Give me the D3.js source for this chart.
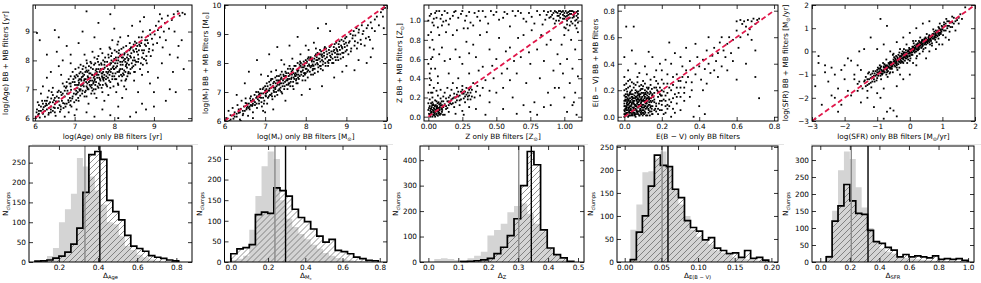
<!DOCTYPE html>
<html>
<head>
<meta charset="utf-8">
<script src="https://cdn.jsdelivr.net/npm/d3@7"></script>
<style>
  body { margin: 0; background: #fff; }
  svg { display: block; }
</style>
</head>
<body>
<div id="chart"></div>
<script>
// ---- scatter data: [only BB, BB + MB] ----
const agePoints = [
  [6.02,6.05],[6.05,6.3],[6.08,6.12],[6.1,6.45],[6.12,6.02],[6.15,6.25],[6.18,6.6],[6.2,6.15],[6.22,6.38],[6.25,6.05],[6.28,6.5],[6.3,6.3],[6.32,6.72],[6.35,6.18],[6.38,6.55],[6.4,6.4],[6.42,6.9],[6.45,6.25],[6.48,6.62],[6.5,6.48],[6.52,6.08],[6.55,6.75],[6.58,6.35],[6.6,6.58],[6.05,8.95],[6.12,8.7],[6.2,7.1],[6.3,7.4],[6.45,7.05],[6.55,8.3],[6.6,7.8],[6.15,6.85],[6.35,6.95],[6.5,6.2],
  [6.62,6.45],[6.65,6.9],[6.68,6.6],[6.7,7.2],[6.72,6.35],[6.75,6.75],[6.78,7.05],[6.8,6.5],[6.82,6.95],[6.85,7.35],[6.88,6.7],[6.9,7.1],[6.92,6.4],[6.95,7.25],[6.98,6.85],[7.0,7.0],[7.02,7.4],[7.04,6.62],[7.06,7.15],[7.08,6.9],[7.1,7.3],[7.12,7.55],[7.14,6.78],[7.16,7.12],[7.18,7.42],[7.2,6.95],[6.7,8.0],[6.8,8.5],[6.9,7.9],[7.0,6.1],[7.1,8.6],[6.75,6.05],[7.15,7.85],[6.95,7.6],[7.05,6.3],[7.2,7.7],[6.66,7.5],[6.85,6.2],
  [7.22,7.2],[7.24,7.5],[7.26,6.9],[7.28,7.35],[7.3,7.65],[7.32,7.05],[7.34,7.4],[7.36,7.8],[7.38,7.15],[7.4,7.55],[7.42,6.85],[7.44,7.3],[7.46,7.7],[7.48,7.0],[7.5,7.45],[7.52,7.9],[7.54,7.25],[7.56,7.6],[7.58,7.1],[7.6,7.5],[7.62,7.85],[7.64,7.35],[7.66,7.7],[7.68,7.05],[7.7,7.55],[7.72,8.0],[7.74,7.4],[7.76,7.75],[7.78,7.2],[7.8,7.6],[7.25,8.2],[7.35,6.5],[7.45,8.3],[7.55,6.7],[7.65,8.4],[7.75,6.6],[7.3,6.2],[7.5,8.8],[7.7,6.3],[7.4,7.95],[7.6,8.15],[7.28,7.75],[7.48,7.25],[7.68,7.85],[7.33,7.0],[7.53,7.65],[7.73,7.3],[7.57,8.05],[7.43,7.15],
  [7.82,7.95],[7.84,7.4],[7.86,8.1],[7.88,7.65],[7.9,7.25],[7.92,7.9],[7.94,8.25],[7.96,7.55],[7.98,7.8],[8.0,8.05],[8.02,7.35],[8.04,7.75],[8.06,8.3],[8.08,7.6],[8.1,8.0],[8.12,7.45],[8.14,8.15],[8.16,7.85],[8.18,8.4],[8.2,7.7],[8.22,8.1],[8.24,7.5],[8.26,8.25],[8.28,7.95],[8.3,8.5],[8.32,7.75],[8.34,8.2],[8.36,7.6],[8.38,8.35],[7.85,6.8],[7.95,8.7],[8.05,6.9],[8.15,8.8],[8.25,7.1],[8.35,8.85],[7.9,6.1],[8.1,6.4],[8.3,7.0],[8.0,9.1],[8.2,6.7],[7.88,8.45],[8.08,8.55],[8.28,7.3],[7.98,7.1],[8.18,7.3],
  [8.42,8.1],[8.45,8.45],[8.48,7.8],[8.5,8.3],[8.52,8.65],[8.55,7.95],[8.58,8.5],[8.6,8.2],[8.62,8.8],[8.65,7.7],[8.68,8.6],[8.7,8.35],[8.72,9.0],[8.75,8.05],[8.78,8.7],[8.8,8.5],[8.82,7.9],[8.85,8.85],[8.88,8.4],[8.9,9.05],[8.92,8.15],[8.95,8.75],[8.98,8.55],[8.5,7.3],[8.6,6.9],[8.7,7.5],[8.8,6.3],[8.9,7.2],[8.45,9.2],[8.65,9.35],[8.55,6.2],[8.75,9.5],[8.4,7.55],[8.85,7.6],
  [9.02,8.9],[9.05,9.2],[9.08,8.6],[9.1,9.05],[9.12,9.35],[9.15,8.8],[9.18,9.15],[9.2,9.45],[9.22,8.45],[9.25,9.0],[9.28,9.3],[9.3,8.7],[9.35,9.55],[9.38,9.1],[9.4,8.2],[9.45,9.4],[9.5,9.6],[9.52,9.0],[9.55,6.9],[9.6,9.7],[9.62,8.5],[9.65,9.55],[9.7,8.7],[9.72,9.65],[9.75,7.7],[9.78,9.6],[9.1,7.4],[9.3,6.6],[9.2,7.9],[9.4,7.0],[9.0,6.4],[9.6,8.1],[9.48,7.6],[9.15,9.6],
  [6.3,8.2],[6.6,8.8],[6.4,7.6],[6.9,8.2],[7.2,9.0],[7.6,9.3],[7.9,9.6],[7.3,9.7],[6.5,9.05],[8.4,6.05],[8.7,6.5],[8.1,6.0],[9.0,6.9],[7.5,6.05]
];
const ageCore = [
  [6.26,6.42],[6.34,6.12],[6.41,6.68],[6.47,6.37],[6.53,6.58],[6.57,6.9],[6.63,6.22],[6.67,6.8],[6.71,6.52],[6.74,7.1],[6.77,6.4],[6.81,6.85],[6.84,6.62],[6.87,7.2],[6.89,6.45],[6.91,6.98],[6.94,6.68],[6.97,7.35],[6.99,6.55],[7.01,7.15],[7.03,6.82],[7.05,7.5],[7.07,7.05],[7.09,6.7],[7.11,7.22],[7.13,6.95],[7.15,7.6],[7.17,7.3],[7.19,6.85],[7.21,7.45],[7.23,7.1],[7.25,6.75],[7.27,7.6],[7.29,7.25],[7.31,7.9],[7.33,7.45],[7.35,7.0],[7.37,7.55],[7.39,7.3],[7.41,7.75],[7.43,7.05],[7.45,7.5],[7.47,7.2],[7.49,7.85],[7.51,7.35],[7.53,7.0],[7.55,7.7],[7.57,7.4],[7.59,7.95],[7.61,7.2],[7.63,7.6],[7.65,7.3],[7.67,7.9],[7.69,7.45],[7.71,7.15],[7.73,7.7],[7.75,7.5],[7.77,8.1],[7.79,7.35],[7.81,7.8],[7.83,7.55],[7.85,8.2],[7.87,7.3],[7.89,7.85],[7.91,7.6],[7.93,8.0],[7.95,7.35],[7.97,7.95],[7.99,7.7],[8.01,8.35],[8.03,7.55],[8.05,8.0],[8.07,7.8],[8.09,7.2],[8.11,8.25],[8.13,7.65],[8.15,7.95],[8.17,7.5],[8.19,8.1],[8.21,7.85],[8.23,8.45],[8.25,7.65],[8.27,8.05],[8.29,7.8],[8.31,8.3],[8.33,7.45],[8.35,8.0],[8.37,7.85],[8.39,8.6],[8.41,7.7],[8.43,8.25],[8.47,8.0],[8.49,8.55],[8.53,7.85],[8.57,8.3],[8.61,8.05],[8.63,8.55],[8.67,7.9],[8.69,8.8],[8.73,8.25],[8.77,8.55],[8.81,8.15],[8.83,8.7],[8.87,8.3],[8.91,8.9],[8.97,8.35],
  [7.0,7.25],[7.04,6.95],[7.08,7.45],[7.12,7.0],[7.16,7.35],[7.2,7.15],[7.24,7.3],[7.28,6.95],[7.32,7.6],[7.36,7.25],[7.4,7.1],[7.44,7.5],[7.48,7.4],[7.52,7.15],[7.56,7.5],[7.6,7.7],[7.64,7.15],[7.68,7.55],[7.72,7.35],[7.76,7.95],[7.8,7.45],[7.84,7.7],[7.88,7.5],[7.92,8.15],[7.96,7.75],[8.0,7.45],[8.04,8.1],[8.08,7.9],[8.12,7.6],[8.16,8.2],[8.2,7.95],[8.24,8.0],[8.28,7.6],[8.32,8.1],[8.36,8.05],[8.4,8.4],[8.44,7.9],[8.48,8.35],[8.52,8.0],[8.56,8.6],[7.1,6.6],[7.3,6.75],[7.5,6.85],[7.7,6.9],[7.9,7.05],[8.1,7.15],[8.3,7.35],[8.5,7.6],[6.9,7.45],[7.1,7.75],[7.3,8.0],[7.5,8.1],[7.7,8.25],[7.9,8.4],[8.1,8.65],[6.6,6.95],[6.8,7.25],[6.5,6.7],[6.4,6.2],[6.3,6.45],[6.2,6.3],[6.1,6.15],[6.15,6.4],[6.25,6.6],[6.35,6.35],[6.45,6.8],[6.55,6.55],[6.65,6.3],[6.75,6.95],[6.85,6.55]
];
const ageExtra = [
  [6.9,7.2],[6.95,6.75],[7.0,7.45],[7.05,6.85],[7.1,7.15],[7.15,7.0],[7.2,7.55],[7.25,7.35],[7.3,7.1],[7.35,7.65],[7.4,7.4],[7.45,6.95],[7.5,7.3],[7.55,7.55],[7.6,7.05],[7.65,7.65],[7.7,7.4],[7.75,7.85],[7.8,7.15],[7.85,7.6],[7.9,7.9],[7.95,7.45],[8.0,7.7],[8.05,7.35],[8.1,8.1],[8.15,7.7],[8.2,7.45],[8.25,8.2],[8.3,7.85],[8.35,7.55],[8.4,8.15],[8.45,7.75],[8.5,8.1],[8.55,8.4],[8.6,7.95],[8.65,8.5],[8.7,8.1],[8.75,8.35],[8.8,8.0],[8.85,8.6],[7.02,7.7],[7.12,7.35],[7.22,7.8],[7.32,7.2],[7.42,7.9],[7.52,7.55],[7.62,7.4],[7.72,7.6],[7.82,7.1],[7.92,7.7],[8.02,7.9],[8.12,8.35],[8.22,7.55],[8.32,7.9],[8.42,8.45],[8.52,7.6],[8.62,8.35],[8.72,7.85],[6.6,6.7],[6.65,6.4],[6.7,6.85],[6.75,6.5],[6.8,7.1],[6.85,6.85],[6.9,6.6],[6.5,6.35],[6.45,6.55],[6.4,6.3],[6.35,6.5],[6.3,6.6],[6.25,6.25],[6.2,6.5],[6.1,6.25],[6.07,6.55],[6.04,6.2]
];
const massPoints = [
  [6.05,6.1],[6.1,6.35],[6.12,6.0],[6.15,6.2],[6.2,6.45],[6.22,6.08],[6.25,6.3],[6.3,6.15],[6.32,6.55],[6.35,6.28],[6.38,6.05],[6.4,6.42],[6.42,6.7],[6.45,6.2],[6.48,6.5],[6.5,6.35],[6.52,6.78],[6.55,6.45],[6.58,6.18],[6.6,6.6],[6.62,6.4],[6.65,6.85],[6.68,6.52],[6.7,6.3],[6.72,6.7],[6.75,6.55],[6.78,7.0],[6.8,6.45],[6.82,6.75],[6.85,6.6],[6.88,7.1],[6.9,6.8],[6.92,6.5],[6.95,6.95],[6.98,6.7],[7.0,7.2],[7.02,6.85],[7.05,6.6],[7.08,7.05],[7.1,7.35],[7.12,6.9],[7.15,7.15],[7.18,6.75],[7.2,7.3],[7.22,7.0],[7.25,7.5],[7.28,7.2],[7.3,6.9],[7.32,7.4],[7.35,7.1],[7.38,7.6],[7.4,7.3],[7.42,6.95],[7.45,7.45],[7.48,7.2],[7.5,7.7],[7.52,7.4],[7.55,7.1],[7.58,7.55],[7.6,7.3],[7.62,7.8],[7.65,7.5],[7.68,7.2],[7.7,7.65],[7.72,7.45],[7.75,7.9],[7.78,7.6],[7.8,7.3],[7.82,7.75],[7.85,7.55],[7.88,8.0],[7.9,7.7],[7.92,7.4],[7.95,7.85],[7.98,7.6],[8.0,8.1],[8.02,7.8],[8.05,7.5],[8.08,7.95],[8.1,7.7],[8.12,8.2],[8.15,7.9],[8.18,7.6],[8.2,8.05],[8.22,7.8],[8.25,8.3],[8.28,8.0],[8.3,7.7],[8.32,8.15],[8.35,7.9],[8.38,8.4],[8.4,8.1],[8.42,7.75],[8.45,8.25],[8.48,8.0],[8.5,8.5],[8.52,8.2],[8.55,7.9],[8.58,8.35],[8.6,8.1],[8.62,8.6],[8.65,8.3],[8.68,8.0],[8.7,8.45],[8.72,8.2],[8.75,8.7],[8.78,8.4],[8.8,8.1],[8.82,8.55],[8.85,8.3],[8.88,8.8],[8.9,8.5],[8.92,8.2],[8.95,8.65],[8.98,8.4],[9.0,8.9],[9.02,8.6],[9.05,8.3],[9.08,8.75],[9.1,9.0],[9.12,8.5],[9.15,8.85],[9.18,9.1],[9.2,8.6],[9.22,8.95],[9.25,9.2],[9.28,8.7],[9.3,9.05],[9.35,8.8],[9.38,9.3],[9.4,9.0],[9.45,8.6],[9.5,9.2],[9.55,8.9],[9.6,9.4],[9.65,8.5],[9.7,9.1],[9.75,9.6],[9.8,9.3],[9.85,9.75],[9.9,9.85],[9.95,9.9],[9.92,9.2],
  [6.3,6.9],[6.5,7.3],[6.6,7.7],[6.8,8.1],[6.9,7.6],[7.1,8.3],[7.2,6.4],[7.0,6.3],[7.4,8.1],[7.6,8.6],[7.8,8.9],[7.9,6.9],[8.1,7.1],[8.3,9.2],[8.5,9.35],[8.4,7.2],[8.7,7.5],[8.9,7.7],[9.0,7.9],[9.2,7.75],[9.3,8.1],[9.5,8.0],[9.6,8.2],[8.6,9.1],[7.5,6.7],[6.4,6.0],[6.7,6.1],[7.3,8.55],[9.9,9.6],[9.7,9.5],[8.0,8.6],[7.7,7.1],[8.2,8.7],[7.15,7.7],[6.95,6.35],
  [7.05,7.0],[7.25,7.15],[7.45,7.6],[7.65,7.7],[7.85,7.85],[8.05,8.15],[7.15,7.45],[7.35,7.25],[7.55,7.4],[7.75,7.55],[7.95,8.05],[8.15,8.1],[8.35,8.3],[6.85,6.9],[6.65,6.7],[7.4,7.0],[7.6,7.9],[7.8,8.0],[8.0,7.65],[8.25,8.5]
];
const massCore = [
  [6.15,6.05],[6.25,6.15],[6.35,6.4],[6.45,6.35],[6.55,6.6],[6.6,6.45],[6.65,6.55],[6.7,6.75],[6.75,6.65],[6.8,6.85],[6.85,6.7],[6.9,6.95],[6.95,6.8],[7.0,7.05],[7.02,6.95],[7.06,7.2],[7.1,7.05],[7.13,7.25],[7.16,6.95],[7.19,7.2],[7.22,7.35],[7.25,7.1],[7.28,7.4],[7.31,7.25],[7.34,7.55],[7.37,7.3],[7.4,7.5],[7.43,7.2],[7.46,7.55],[7.49,7.35],[7.52,7.65],[7.55,7.45],[7.58,7.3],[7.61,7.6],[7.64,7.45],[7.67,7.75],[7.7,7.5],[7.73,7.6],[7.76,7.4],[7.79,7.75],[7.82,7.6],[7.85,7.95],[7.88,7.7],[7.91,7.85],[7.94,7.55],[7.97,7.9],[8.0,7.8],[8.03,8.05],[8.06,7.75],[8.09,8.1],[8.12,7.85],[8.15,8.05],[8.18,7.8],[8.21,8.15],[8.24,7.95],[8.27,8.2],[8.3,7.95],[8.33,8.3],[8.36,8.05],[8.39,8.25],[8.42,7.95],[8.45,8.35],[8.48,8.15],[8.51,8.4],[8.54,8.05],[8.57,8.45],[8.6,8.25],[8.63,8.4],[8.66,8.15],[8.69,8.55],[8.72,8.35],[8.75,8.5],[8.78,8.2],[8.81,8.65],[8.84,8.45],[8.87,8.6],[8.9,8.35],[8.93,8.75],[8.96,8.55],[8.99,8.7],
  [7.03,7.1],[7.09,6.85],[7.14,7.4],[7.21,7.15],[7.27,7.0],[7.33,7.35],[7.39,7.45],[7.45,7.3],[7.51,7.55],[7.57,7.65],[7.63,7.35],[7.69,7.8],[7.75,7.65],[7.81,7.5],[7.87,7.9],[7.93,7.75],[7.99,8.0],[8.05,7.9],[8.11,8.15],[8.17,7.95],[8.23,8.25],[8.29,8.1],[8.35,8.45],[8.41,8.2],[8.47,8.55],[6.7,6.6],[6.78,6.8],[6.86,6.95],[6.94,7.1],[6.62,6.5],[6.54,6.4],[6.46,6.25],[6.38,6.3],[6.3,6.25],[6.22,6.2],[6.97,6.6],[7.17,6.85],[7.37,7.05],[7.57,7.25],[7.77,7.45],[7.97,7.65],[8.17,7.75],[8.37,7.9],[8.57,8.1],[8.77,8.3],[7.07,7.55],[7.27,7.75],[7.47,7.95],[7.67,8.15],[7.87,8.3],[8.07,8.45]
];
const massExtra = [
  [6.52,6.62],[6.57,6.5],[6.63,6.78],[6.69,6.55],[6.74,6.9],[6.79,6.6],[6.83,7.0],[6.87,6.82],[6.91,6.65],[6.96,7.15],[7.01,6.88],[7.04,7.3],[7.07,6.8],[7.11,7.12],[7.14,6.9],[7.18,7.45],[7.21,7.05],[7.24,6.85],[7.26,7.3],[7.29,7.55],[7.32,7.05],[7.36,7.4],[7.38,7.15],[7.41,7.7],[7.44,7.4],[7.47,7.1],[7.5,7.55],[7.53,7.25],[7.56,7.8],[7.59,7.45],[7.62,7.2],[7.66,7.6],[7.69,7.35],[7.72,7.9],[7.74,7.55],[7.77,7.3],[7.8,7.7],[7.83,7.45],[7.86,8.05],[7.89,7.6],[7.92,7.95],[7.96,7.65],[7.99,7.4],[8.02,8.0],[8.04,7.7],[8.07,8.2],[8.1,7.9],[8.13,7.6],[8.16,8.15],[8.19,7.9],[8.22,7.65],[8.26,8.1],[8.29,8.35],[8.31,7.85],[8.34,8.15],[8.37,7.8],[8.4,8.3],[8.43,8.05],[8.46,8.5],[8.49,7.9],[8.53,8.3],[8.56,8.0],[8.59,8.55],[8.62,8.2],[8.65,8.0],[8.68,8.4],[8.71,8.65],[8.74,8.1],[8.77,8.45],[8.8,8.3],[8.83,8.75],[8.86,8.15],[8.89,8.55],[8.93,8.35],[8.97,8.85],[9.01,8.45],[9.06,8.7],[9.11,8.4],[9.16,8.95],[9.21,8.75],[9.26,8.5],[9.31,9.15],[9.36,8.65],[9.42,9.1],[9.48,8.85],[9.53,9.3],[9.58,8.8],[9.63,9.2]
];
const zPoints = [
  [0.01,0.02],[0.02,0.08],[0.03,0.0],[0.04,0.12],[0.05,0.05],[0.06,0.1],[0.07,0.01],[0.08,0.07],[0.09,0.14],[0.01,0.11],[0.02,0.04],[0.03,0.15],[0.04,0.06],[0.05,0.0],[0.06,0.03],[0.07,0.09],[0.08,0.13],[0.1,0.05],[0.11,0.1],[0.12,0.02],[0.01,0.18],[0.02,0.25],[0.03,0.2],[0.05,0.17],[0.07,0.22],[0.09,0.19],[0.0,0.07],[0.0,0.14],[0.13,0.08],[0.15,0.12],[0.04,0.3],[0.02,0.38],[0.06,0.27],[0.01,0.33],[0.11,0.16],
  [0.14,0.16],[0.16,0.22],[0.18,0.14],[0.2,0.2],[0.22,0.26],[0.24,0.18],[0.26,0.24],[0.28,0.3],[0.3,0.22],[0.32,0.28],[0.34,0.2],[0.36,0.32],[0.17,0.28],[0.19,0.1],[0.21,0.3],[0.23,0.12],[0.25,0.32],[0.27,0.15],[0.29,0.25],[0.31,0.18],[0.33,0.35],[0.35,0.26],[0.38,0.22],[0.4,0.3],[0.15,0.05],[0.2,0.03],[0.25,0.06],[0.3,0.1],[0.42,0.38],[0.45,0.27],[0.18,0.35],[0.22,0.4],[0.12,0.25],[0.26,0.02],[0.14,0.3],
  [0.01,1.05],[0.03,0.98],[0.05,1.08],[0.07,0.93],[0.09,1.02],[0.12,1.1],[0.15,0.96],[0.18,1.05],[0.21,0.9],[0.24,1.07],[0.27,1.0],[0.3,1.09],[0.33,0.95],[0.36,1.04],[0.4,1.1],[0.44,0.97],[0.48,1.06],[0.52,1.01],[0.56,1.09],[0.6,0.94],[0.64,1.05],[0.68,1.08],[0.72,0.99],[0.76,1.04],[0.8,1.1],[0.84,0.96],[0.02,0.88],[0.06,1.1],[0.1,0.95],[0.04,1.02],[0.08,0.85],[0.13,1.0],[0.2,1.1],[0.29,0.92],[0.38,1.0],[0.46,1.1],[0.55,1.03],[0.62,1.1],[0.7,1.02],[0.78,0.97],
  [0.96,1.05],[0.98,0.98],[1.0,1.08],[1.02,1.0],[1.04,1.1],[1.06,1.03],[1.08,0.95],[1.1,1.07],[0.97,1.1],[0.99,1.02],[1.01,0.92],[1.03,1.06],[1.05,0.99],[1.07,1.09],[1.09,1.01],[0.94,1.0],[0.92,1.08],[0.9,1.04],[0.88,1.09],[0.86,1.01],
  [1.0,0.85],[1.05,0.8],[1.08,0.7],[0.98,0.75],[1.02,0.6],[1.06,0.5],[1.1,0.42],[0.97,0.55],[1.04,0.35],[1.08,0.25],[1.0,0.2],[1.06,0.12],[1.02,0.05],[1.09,0.02],[0.96,0.3],[1.1,0.88],[1.03,0.9],[0.95,0.65],[1.07,0.15],[0.99,0.45],
  [0.05,0.5],[0.08,0.65],[0.03,0.8],[0.1,0.72],[0.15,0.45],[0.12,0.58],[0.2,0.7],[0.18,0.85],[0.25,0.55],[0.28,0.78],[0.3,0.45],[0.35,0.62],[0.38,0.85],[0.4,0.52],[0.45,0.7],[0.48,0.4],[0.5,0.6],[0.52,0.82],[0.55,0.3],[0.58,0.5],[0.6,0.72],[0.62,0.2],[0.65,0.45],[0.68,0.62],[0.7,0.85],[0.72,0.35],[0.75,0.55],[0.78,0.15],[0.8,0.7],[0.82,0.4],[0.85,0.58],[0.88,0.25],[0.9,0.8],[0.92,0.48],[0.55,0.08],[0.65,0.03],[0.75,0.05],[0.85,0.1],[0.45,0.15],[0.35,0.08],[0.42,0.02],[0.6,0.38],[0.5,0.25],[0.7,0.12],[0.8,0.02],[0.9,0.12],[0.23,0.62],[0.33,0.75],[0.07,0.42],[0.16,0.6],[0.43,0.88],[0.57,0.68],[0.66,0.82],[0.76,0.9],[0.87,0.75],[0.13,0.88],[0.26,0.92],[0.3,0.66],[0.47,0.53],[0.83,0.85],[0.93,0.3],[0.63,0.58],[0.74,0.67],[0.54,0.45],[0.37,0.48],[0.02,0.6],[0.01,0.45],[0.04,0.7]
];
const zCore = [
  [0.005,0.03],[0.015,0.06],[0.025,0.1],[0.035,0.02],[0.045,0.08],[0.055,0.12],[0.065,0.06],[0.075,0.03],[0.085,0.1],[0.095,0.08],[0.005,0.09],[0.015,0.0],[0.025,0.05],[0.035,0.13],[0.045,0.03],[0.055,0.07],[0.065,0.11],[0.075,0.15],[0.085,0.02],[0.1,0.12],[0.02,0.14],[0.04,0.09],[0.06,0.16],[0.08,0.04],[0.1,0.09],[0.12,0.13],[0.14,0.09],[0.16,0.14],[0.18,0.19],[0.2,0.15],[0.22,0.21],[0.24,0.26],[0.26,0.19],[0.28,0.23],[0.3,0.28],[0.32,0.21],[0.17,0.18],[0.19,0.24],[0.21,0.17],[0.23,0.22],[0.25,0.28],[0.27,0.21],[0.29,0.18],[0.31,0.25],[0.13,0.19],[0.15,0.2],[0.11,0.21],[0.09,0.28],[0.07,0.35],[0.03,0.25],
  [0.0,1.0],[0.02,1.07],[0.04,0.95],[0.06,1.03],[0.08,1.1],[0.1,1.06],[0.11,0.99],[0.14,1.08],[0.16,1.02],[0.19,1.09],[0.22,1.03],[0.25,1.1],[0.28,1.05],[0.31,0.98],[0.34,1.08],[0.37,1.1],[0.42,1.04],[0.5,1.09],[0.58,1.07],[0.66,1.1],[0.74,1.08],[0.82,1.06],
  [0.9,1.1],[0.92,1.02],[0.94,1.09],[0.95,1.05],[0.97,1.03],[0.98,1.09],[0.99,1.06],[1.0,1.02],[1.01,1.1],[1.02,1.05],[1.03,1.09],[1.04,1.03],[1.05,1.07],[1.06,1.1],[1.07,1.04],[1.08,1.08],[1.09,1.05],[1.1,1.1],[1.08,1.0],[1.06,0.97],[1.04,0.95],[1.02,0.96],[1.1,0.98],[0.96,1.0],[0.93,0.97],[0.89,1.03],[0.87,1.06],[0.85,1.1],[1.0,0.93],[1.09,0.92],
  [0.0,0.25],[0.01,0.4],[0.0,0.55],[0.01,0.72],[0.0,0.85],[0.02,0.5],[0.03,0.62]
];
const zExtra = [
  [0.012,0.015],[0.022,0.035],[0.032,0.07],[0.042,0.015],[0.052,0.045],[0.062,0.085],[0.072,0.05],[0.082,0.065],[0.092,0.03],[0.102,0.07],[0.018,0.085],[0.028,0.12],[0.038,0.045],[0.048,0.11],[0.058,0.02],[0.068,0.14],[0.078,0.09],[0.088,0.12],[0.098,0.16],[0.108,0.02],[0.13,0.11],[0.15,0.16],[0.17,0.13],[0.19,0.2],[0.21,0.23],[0.23,0.17],[0.25,0.24],[0.27,0.26],[0.29,0.21],[0.31,0.3],
  [0.91,1.06],[0.93,1.1],[0.95,1.08],[0.97,1.07],[0.99,1.1],[1.01,1.04],[1.03,1.02],[1.05,1.1],[1.07,1.06],[1.09,1.09],[1.1,1.03],[1.04,1.07],[1.0,1.05],[0.96,1.1],[1.02,1.08]
];
const ebvPoints = [
  [0.0,0.02],[0.01,0.05],[0.0,0.1],[0.02,0.0],[0.01,0.15],[0.03,0.08],[0.02,0.12],[0.04,0.03],[0.03,0.18],[0.05,0.06],[0.04,0.1],[0.06,0.0],[0.05,0.14],[0.07,0.04],[0.06,0.2],[0.08,0.09],[0.07,0.13],[0.09,0.02],[0.08,0.17],[0.1,0.07],[0.09,0.11],[0.11,0.15],[0.1,0.03],[0.12,0.1],[0.11,0.2],[0.13,0.05],[0.12,0.14],[0.0,0.2],[0.01,0.25],[0.0,0.3],[0.02,0.22],[0.01,0.07],[0.03,0.01],[0.02,0.16],[0.0,0.05],[0.04,0.13],[0.05,0.22],[0.06,0.09],[0.07,0.18],[0.08,0.01],[0.14,0.12],[0.15,0.08],[0.16,0.18],[0.13,0.22],[0.15,0.02],[0.17,0.1],[0.18,0.15],[0.19,0.05],[0.2,0.2],[0.2,0.12],[0.22,0.16],[0.21,0.02],[0.23,0.25],[0.24,0.08],[0.25,0.2],[0.26,0.14],[0.27,0.03],[0.28,0.22],[0.02,0.35],[0.0,0.45],[0.03,0.28],[0.01,0.68],[0.05,0.68],[0.04,0.5],[0.07,0.3],[0.1,0.27],[0.12,0.32],[0.14,0.28],[0.09,0.24],[0.16,0.3],[0.18,0.25],[0.2,0.35],[0.11,0.38],[0.08,0.33],[0.06,0.4],[0.15,0.45],[0.13,0.49],
  [0.28,0.32],[0.3,0.27],[0.31,0.38],[0.32,0.22],[0.33,0.35],[0.34,0.3],[0.35,0.42],[0.36,0.26],[0.37,0.37],[0.38,0.32],[0.39,0.45],[0.4,0.38],[0.41,0.28],[0.42,0.43],[0.43,0.36],[0.44,0.5],[0.45,0.4],[0.46,0.33],[0.47,0.46],[0.48,0.52],[0.49,0.42],[0.5,0.48],[0.51,0.56],[0.52,0.38],[0.53,0.5],[0.54,0.45],[0.55,0.55],[0.56,0.6],[0.57,0.48],[0.58,0.58],[0.6,0.65],[0.61,0.52],[0.62,0.6],[0.63,0.7],[0.64,0.72],[0.65,0.68],[0.66,0.73],[0.67,0.66],[0.68,0.72],[0.69,0.74],[0.7,0.7],[0.71,0.73],[0.72,0.74],[0.6,0.72],[0.62,0.73],[0.66,0.62],[0.68,0.58],[0.7,0.5],[0.45,0.6],[0.38,0.55],[0.3,0.45],[0.25,0.4],[0.42,0.2],[0.35,0.15],[0.3,0.05],[0.4,0.08],[0.5,0.3],[0.55,0.35],[0.6,0.28],[0.65,0.4],[0.72,0.14],[0.7,0.3],[0.24,0.56],[0.22,0.43],[0.27,0.48],[0.33,0.52],[0.26,0.3],[0.29,0.18],[0.32,0.12],[0.36,0.2],[0.23,0.32],[0.2,0.28],[0.19,0.4],[0.17,0.35],[0.44,0.25],[0.48,0.35],[0.52,0.6],[0.58,0.42],[0.43,0.02],[0.37,0.0],[0.25,0.0],[0.28,0.1],
  [0.005,0.01],[0.015,0.09],[0.025,0.04],[0.035,0.11],[0.045,0.01],[0.055,0.09],[0.065,0.05],[0.075,0.11],[0.085,0.06],[0.095,0.15],[0.105,0.12],[0.115,0.06],[0.125,0.18],[0.135,0.09],[0.145,0.04],[0.155,0.15],[0.165,0.06],[0.175,0.2],[0.185,0.1],[0.195,0.16],[0.005,0.13],[0.015,0.19],[0.025,0.1],[0.035,0.05],[0.045,0.17],[0.055,0.03],[0.065,0.15],[0.075,0.07],[0.085,0.2],[0.095,0.05],[0.01,0.03],[0.02,0.07],[0.03,0.14],[0.04,0.2],[0.05,0.1],[0.06,0.06],[0.07,0.16],[0.08,0.12],[0.09,0.08],[0.1,0.18]
];
const ebvCore = [
  [0.002,0.04],[0.008,0.12],[0.012,0.02],[0.018,0.14],[0.022,0.06],[0.028,0.17],[0.032,0.03],[0.038,0.09],[0.042,0.15],[0.048,0.05],[0.052,0.12],[0.058,0.18],[0.062,0.02],[0.068,0.1],[0.072,0.14],[0.078,0.04],[0.082,0.15],[0.088,0.1],[0.092,0.18],[0.098,0.01],[0.102,0.09],[0.108,0.14],[0.112,0.03],[0.118,0.11],[0.122,0.16],[0.128,0.06],[0.132,0.13],[0.138,0.19],[0.142,0.08],[0.148,0.16],
  [0.003,0.08],[0.007,0.17],[0.013,0.1],[0.017,0.03],[0.023,0.13],[0.027,0.07],[0.033,0.19],[0.037,0.01],[0.043,0.07],[0.047,0.12],[0.053,0.02],[0.057,0.14],[0.063,0.08],[0.067,0.19],[0.073,0.02],[0.077,0.13],[0.083,0.08],[0.087,0.03],[0.093,0.12],[0.097,0.21],[0.103,0.05],[0.107,0.17],[0.113,0.08],[0.117,0.13],[0.123,0.01],[0.127,0.21],[0.133,0.11],[0.137,0.04],[0.143,0.14],[0.147,0.21],
  [0.0,0.0],[0.0,0.08],[0.0,0.16],[0.0,0.24],[0.0,0.12],[0.01,0.21],[0.02,0.27],[0.03,0.23],[0.04,0.26],[0.05,0.25],[0.06,0.24],[0.07,0.26],[0.08,0.23],[0.09,0.21],[0.1,0.23],[0.11,0.25],[0.12,0.22],[0.14,0.24],[0.16,0.22],[0.17,0.27],[0.19,0.22],[0.21,0.25],[0.22,0.08],[0.23,0.18],[0.24,0.13],[0.26,0.06],[0.27,0.17],[0.29,0.27],[0.3,0.15],[0.31,0.3],[0.33,0.26],[0.16,0.11],[0.18,0.06],[0.2,0.09],[0.21,0.13],[0.19,0.17],[0.17,0.04],[0.15,0.17],[0.13,0.15],[0.11,0.08],
  [0.005,0.06],[0.015,0.11],[0.025,0.01],[0.035,0.08],[0.045,0.14],[0.055,0.05],[0.065,0.12],[0.075,0.17],[0.085,0.13],[0.095,0.09],[0.105,0.02],[0.115,0.17],[0.125,0.08],[0.135,0.14],[0.01,0.01],[0.03,0.05],[0.05,0.03],[0.07,0.07],[0.09,0.04],[0.11,0.12]
];
const ebvExtra = [
  [0.004,0.02],[0.009,0.06],[0.014,0.13],[0.019,0.05],[0.024,0.16],[0.029,0.11],[0.034,0.06],[0.039,0.15],[0.044,0.04],[0.049,0.1],[0.054,0.16],[0.059,0.08],[0.064,0.13],[0.069,0.03],[0.074,0.09],[0.079,0.16],[0.084,0.05],[0.089,0.13],[0.094,0.07],[0.099,0.12],[0.104,0.16],[0.109,0.04],[0.114,0.1],[0.119,0.19],[0.124,0.12],[0.129,0.03],[0.134,0.17],[0.139,0.07],[0.144,0.11],[0.149,0.02],
  [0.006,0.15],[0.011,0.08],[0.016,0.17],[0.021,0.09],[0.026,0.03],[0.031,0.12],[0.036,0.17],[0.041,0.02],[0.046,0.11],[0.051,0.07],[0.056,0.01],[0.061,0.15],[0.066,0.04],[0.071,0.11],[0.076,0.19],[0.081,0.01],[0.086,0.17],[0.091,0.14],[0.096,0.03],[0.101,0.13],[0.106,0.07],[0.111,0.18],[0.116,0.01],[0.121,0.07],[0.126,0.14],[0.131,0.09],[0.136,0.01],[0.141,0.18],[0.146,0.06],[0.151,0.12],
  [0.16,0.13],[0.17,0.08],[0.18,0.19],[0.19,0.12],[0.2,0.05],[0.21,0.19],[0.22,0.12],[0.23,0.06],[0.24,0.22],[0.25,0.11],[0.18,0.02],[0.16,0.05],[0.2,0.16],[0.22,0.03],[0.17,0.22],[0.23,0.09],[0.26,0.24],[0.28,0.15],[0.3,0.22],[0.32,0.18]
];
const sfrPoints = [
  [-1.4,-1.3],[-1.35,-1.1],[-1.3,-1.45],[-1.25,-1.2],[-1.2,-1.0],[-1.15,-1.3],[-1.1,-1.05],[-1.05,-0.85],[-1.0,-1.15],[-0.95,-0.9],[-0.9,-0.7],[-0.85,-1.0],[-0.8,-0.8],[-0.75,-0.6],[-0.7,-0.9],[-0.65,-0.65],[-0.6,-0.45],[-0.55,-0.75],[-0.5,-0.5],[-0.45,-0.3],[-0.4,-0.6],[-0.35,-0.4],[-0.3,-0.2],[-0.25,-0.45],[-0.2,-0.25],[-0.15,-0.05],[-0.1,-0.3],[-0.05,-0.1],[0.0,0.1],[0.05,-0.15],[0.1,0.05],[0.15,0.25],[0.2,0.0],[0.25,0.2],[0.3,0.4],[0.35,0.15],[0.4,0.35],[0.45,0.55],[0.5,0.3],[0.55,0.5],[0.6,0.7],[0.65,0.45],[0.7,0.65],[0.75,0.85],[0.8,0.6],[0.85,0.8],[0.9,1.0],[0.95,0.75],[1.0,0.95],[1.05,1.15],[1.1,0.9],[1.15,1.1],[1.2,1.3],[1.25,1.05],[1.3,1.25],[1.35,1.45],[1.45,1.35],[1.55,1.6],
  [-1.45,-1.6],[-1.38,-1.25],[-1.28,-0.95],[-1.18,-1.55],[-1.08,-1.3],[-0.98,-0.7],[-0.88,-1.2],[-0.78,-0.55],[-0.68,-1.1],[-0.58,-0.7],[-0.48,-0.25],[-0.38,-0.8],[-0.28,-0.5],[-0.18,0.1],[-0.08,-0.5],[0.02,-0.3],[0.12,0.35],[0.22,-0.2],[0.32,0.6],[0.42,0.1],[0.52,0.75],[0.62,0.3],[0.72,0.95],[0.82,0.4],[0.92,1.2],[1.02,0.7],[1.12,1.4],[1.22,0.85],[-0.72,-0.35],[-0.62,-0.95],[-0.52,-0.15],[-0.42,-0.45],[-0.32,-0.7],[-0.22,0.0],[-0.12,-0.15],[-0.02,-0.2],[0.08,0.2],[0.18,0.45],[0.28,0.1],[0.38,0.5],[0.48,0.15],[0.58,0.55],[0.68,0.25],[0.78,0.75],[0.88,0.55],[0.98,1.1],
  [-1.0,-0.9],[-0.9,-0.95],[-0.8,-0.65],[-0.7,-0.75],[-0.6,-0.6],[-0.5,-0.35],[-0.4,-0.4],[-0.3,-0.35],[-0.2,-0.1],[-0.1,-0.05],[0.0,-0.1],[0.1,0.15],[0.2,0.3],[0.3,0.2],[0.4,0.45],[0.5,0.45],[0.6,0.5],[0.7,0.75],[0.8,0.9],[0.9,0.8],[-0.55,-0.55],[-0.45,-0.65],[-0.35,-0.15],[-0.25,-0.3],[-0.15,-0.4],[-0.05,0.05],[0.05,0.0],[0.15,-0.05],[0.25,0.35],[0.35,0.3],
  [-2.9,-1.5],[-2.8,-0.5],[-2.6,-0.9],[-2.5,-1.3],[-2.4,-0.7],[-2.3,-2.0],[-2.2,-1.6],[-2.1,-0.8],[-2.0,-1.2],[-1.9,-0.3],[-1.8,-1.9],[-1.7,-1.0],[-1.6,-0.6],[-1.6,-1.4],[-1.5,-2.2],[-1.9,-1.7],[-2.7,-2.3],[-2.2,-2.6],[-1.3,-2.0],[-1.1,-2.4],[-0.9,-2.0],[-0.7,-2.6],[-0.6,-2.45],[-0.5,-2.55],[-0.4,-2.8],[-1.0,-1.8],[-0.8,-1.6],[-0.4,-1.5],[-0.2,-1.2],[0.0,-1.0],[0.2,-0.6],[0.5,-0.3],[0.8,0.1],[1.0,0.3],[1.2,0.5],[-1.2,0.6],[-1.0,0.1],[-0.8,0.3],[-0.6,0.0],[-0.4,0.4],[-0.2,0.6],[0.0,0.8],[0.2,1.0],[-0.9,1.4],[-0.7,1.1],[0.4,1.2],[0.6,1.3],[-2.8,-0.2],[-2.6,-0.6],[-2.3,-1.0],[-2.0,-0.6],[-1.8,-0.4],[-1.4,0.1],[-1.7,-1.2],[-1.3,-1.7],[1.4,0.9],[1.5,1.2],[1.3,1.5],[1.6,1.4],[1.7,1.9],[-2.9,-2.9],[-0.8,-2.9],[-1.5,-0.8],[-2.4,-1.9],[-2.1,-2.3],[-1.55,0.0],[-0.3,-1.0],[0.1,-0.5],[0.3,-0.1],[0.6,0.0],[0.9,0.3],[1.1,0.6]
];
const sfrCore = [
  [-1.3,-1.2],[-1.25,-1.4],[-1.2,-1.15],[-1.15,-0.95],[-1.1,-1.2],[-1.05,-1.05],[-1.0,-0.8],[-0.97,-1.05],[-0.93,-0.85],[-0.9,-1.05],[-0.87,-0.8],[-0.83,-0.95],[-0.8,-0.7],[-0.77,-0.9],[-0.73,-0.65],[-0.7,-0.6],[-0.67,-0.85],[-0.63,-0.55],[-0.6,-0.75],[-0.57,-0.5],[-0.53,-0.65],[-0.5,-0.45],[-0.47,-0.6],[-0.43,-0.35],[-0.4,-0.5],[-0.37,-0.3],[-0.33,-0.45],[-0.3,-0.25],[-0.27,-0.4],[-0.23,-0.15],[-0.2,-0.35],[-0.17,-0.2],[-0.13,-0.3],[-0.1,-0.1],[-0.07,-0.25],[-0.03,0.0],[0.0,-0.2],[0.03,0.05],[0.07,-0.05],[0.1,0.2],[0.13,0.05],[0.17,0.15],[0.2,0.1],[0.23,0.3],[0.27,0.15],[0.3,0.3],[0.33,0.25],[0.37,0.45],[0.4,0.25],[0.43,0.4],[0.47,0.35],[0.5,0.55],[0.53,0.4],[0.57,0.6],[0.6,0.4],[0.63,0.55],[0.67,0.6],[0.7,0.55],[0.73,0.75],[0.77,0.65],[0.8,0.8],[0.83,0.7],[0.87,0.9],[0.9,0.7],[0.93,0.95],[0.97,0.85],[1.0,1.05],[1.05,0.9],[1.1,1.2],[1.15,1.0],
  [-0.95,-0.75],[-0.85,-0.85],[-0.75,-0.75],[-0.65,-0.5],[-0.55,-0.6],[-0.45,-0.5],[-0.35,-0.55],[-0.25,-0.1],[-0.15,-0.25],[-0.05,-0.35],[0.05,0.1],[0.15,0.1],[0.25,0.05],[0.35,0.4],[0.45,0.3],[0.55,0.35],[0.65,0.65],[0.75,0.6],[0.85,0.65],[0.95,0.9],[-0.62,-0.7],[-0.42,-0.2],[-0.22,-0.45],[-0.02,0.15],[0.18,0.0],[0.38,0.2],[0.58,0.45],[0.78,0.5],[-0.82,-0.5],[-0.72,-1.0],[-0.52,-0.9],[-0.32,-0.05],[-0.12,0.05],[0.08,-0.15],[0.28,0.45],[0.48,0.6],[0.68,0.35],[0.88,1.05],
  [-1.6,-1.7],[-1.55,-1.3],[-1.5,-1.5],[-1.2,-1.35],[-1.12,-0.85],[-1.02,-1.25],[-0.92,-0.6],[-1.25,-0.9],[-1.35,-1.5],[1.2,1.1],[1.25,1.25],[1.3,1.05],[1.4,1.3],[1.5,1.45],[1.15,1.3],[1.05,1.25],[1.35,1.2]
];
const sfrExtra = [
  [-1.15,-1.1],[-1.08,-0.95],[-1.02,-1.0],[-0.96,-0.95],[-0.91,-0.75],[-0.86,-0.95],[-0.81,-0.85],[-0.76,-0.7],[-0.71,-0.8],[-0.66,-0.7],[-0.61,-0.5],[-0.56,-0.65],[-0.51,-0.55],[-0.46,-0.4],[-0.41,-0.55],[-0.36,-0.35],[-0.31,-0.45],[-0.26,-0.2],[-0.21,-0.3],[-0.16,-0.15],[-0.11,-0.2],[-0.06,0.0],[-0.01,-0.05],[0.04,-0.05],[0.09,0.1],[0.14,0.15],[0.19,0.2],[0.24,0.1],[0.29,0.25],[0.34,0.35],[0.39,0.3],[0.44,0.5],[0.49,0.4],[0.54,0.45],[0.59,0.65],[0.64,0.5],[0.69,0.7],[0.74,0.55],[0.79,0.7],[0.84,0.85],[0.89,0.75],[0.94,0.8],[0.99,0.95],[-0.48,-0.42],[-0.38,-0.25],[-0.28,-0.3],[-0.18,-0.05],[-0.08,-0.2],[0.02,0.0],[0.12,0.0],[0.22,0.25],[0.32,0.35],[-0.58,-0.45],[-0.68,-0.65],[-0.78,-0.9],[-0.88,-0.65],[-0.6,-0.9],[-0.4,-0.7],[-0.2,-0.5],[0.0,-0.4],[0.2,-0.3],[0.4,0.0],[-0.5,-0.1],[-0.3,0.1],[-0.1,0.3],[0.1,0.45]
];
// 1:1 line extent per panel
const ageOneToOne = [6, 9.65];
const massOneToOne = [6, 10];
const zOneToOne = [0, 1.1];
const ebvOneToOne = [0, 0.8];
const sfrOneToOne = [-3, 2];

// ---- histogram data (N clumps per bin) ----
const ageBinStart = 0.0776, ageBinWidth = 0.0306;
const ageBB = [0,3,15,35,100,133,172,262,240,215,180,145,100,95,65,40,30,18,12,6,3,0,0,0];
const ageMB = [2,3,5,10,15,25,45,85,175,270,278,258,155,127,106,67,40,34,27,16,12,9,5,3];
const ageMedians = [0.333, 0.409];

const massBinStart = 0.0, massBinWidth = 0.033;
const massBB = [5,8,15,78,160,232,268,250,150,105,85,68,55,42,32,22,15,10,6,4,2,1,0,0];
const massMB = [20,32,35,42,115,121,118,180,173,160,128,108,98,80,63,48,55,28,25,20,12,8,4,3];
const massMedians = [0.237, 0.294];

const zBinStart = 0.0197, zBinWidth = 0.0222;
const zBB = [12,15,12,8,8,15,25,40,104,126,150,195,220,230,190,150,120,55,28,10,0];
const zMB = [0,0,0,0,2,3,5,8,14,33,58,104,170,300,434,382,126,55,29,16,3];
const zMedians = [0.302, 0.344];

const ebvBinStart = 0.0077, ebvBinWidth = 0.0082;
const ebvBB = [70,125,195,197,225,240,205,160,125,100,70,55,45,38,25,20,15,10,8,6,5,3,2];
const ebvMB = [5,65,100,165,232,210,207,158,140,90,75,67,48,53,30,25,18,20,10,25,8,10,4];
const ebvMedians = [0.051, 0.059];

const sfrBinStart = 0.04, sfrBinWidth = 0.04;
const sfrBB = [20,151,270,325,303,220,160,100,60,40,30,25,15,12,10,8,6,5,4,3,3,2,2,1];
const sfrMB = [15,120,165,228,180,143,140,93,60,55,43,35,15,22,15,18,15,12,18,8,10,8,10,5];
const sfrMedians = [0.21, 0.323];

// ---- tick values ----
const ageTicks = [6, 7, 8, 9];
const massTicks = [6, 7, 8, 9, 10];
const zTicksX = [0, 0.25, 0.5, 0.75, 1.0];
const zTicksY = [0, 0.2, 0.4, 0.6, 0.8, 1.0];
const ebvTicks = [0, 0.2, 0.4, 0.6, 0.8];
const sfrTicks = [-3, -2, -1, 0, 1, 2];
const ageHistTicks = [0.2, 0.4, 0.6, 0.8];
const massHistTicks = [0, 0.2, 0.4, 0.6, 0.8];
const zHistTicks = [0, 0.1, 0.2, 0.3, 0.4, 0.5];
const ebvHistTicks = [0, 0.05, 0.1, 0.15, 0.2];
const sfrHistTicks = [0, 0.2, 0.4, 0.6, 0.8, 1.0];
const count250Ticks = [0, 50, 100, 150, 200, 250];
const count400Ticks = [0, 100, 200, 300, 400];
const count300Ticks = [0, 50, 100, 150, 200, 250, 300];

// ---- drawing ----
const FONT = '"DejaVu Sans", Verdana, sans-serif';
const FS = 7.3;
const svg = d3.select('#chart').append('svg').attr('width', 981).attr('height', 283);
let clipCount = 0;

const defs = svg.append('defs');
const pat = defs.append('pattern').attr('id', 'hatch')
  .attr('patternUnits', 'userSpaceOnUse').attr('width', 6).attr('height', 6);
pat.append('path').attr('d', 'M-1,1 L1,-1 M0,6 L6,0 M5,7 L7,5')
  .attr('stroke', '#4a4a4a').attr('stroke-width', 0.6);

// text made of normal / subscript pieces
function richText(sel, parts) {
  let level = 0;
  parts.forEach(([str, lv]) => {
    const shift = (lv - level) * 1.9;
    sel.append('tspan').text(str)
      .attr('dy', shift)
      .style('font-size', lv === 0 ? FS + 'px' : (lv === 1 ? '5.2px' : '4.2px'));
    level = lv;
  });
}

function drawAxes(g, x, y, w, h, xTicks, yTicks, xFmt, yFmt, pad) {
  const style = a => {
    a.select('.domain').remove();
    a.selectAll('line').attr('stroke', '#000').attr('stroke-width', 0.8);
    a.selectAll('text').style('font-family', FONT).style('font-size', FS + 'px').attr('fill', '#000');
  };
  g.append('g').attr('transform', `translate(0,${h})`)
    .call(d3.axisBottom(x).tickValues(xTicks).tickFormat(xFmt).tickSizeInner(-4).tickSizeOuter(0).tickPadding(pad))
    .call(style);
  g.append('g')
    .call(d3.axisTop(x).tickValues(xTicks).tickFormat('').tickSizeInner(-4).tickSizeOuter(0))
    .call(style);
  g.append('g')
    .call(d3.axisLeft(y).tickValues(yTicks).tickFormat(yFmt).tickSizeInner(-4).tickSizeOuter(0).tickPadding(3))
    .call(style);
  g.append('g').attr('transform', `translate(${w},0)`)
    .call(d3.axisRight(y).tickValues(yTicks).tickFormat('').tickSizeInner(-4).tickSizeOuter(0))
    .call(style);
  g.append('rect').attr('width', w).attr('height', h)
    .attr('fill', 'none').attr('stroke', '#000').attr('stroke-width', 1);
}

function labels(box, xParts, yParts, yLabelX, xBase) {
  const w = box.right - box.left, h = box.bottom - box.top;
  const xt = svg.append('text').attr('x', box.left + w / 2).attr('y', xBase)
    .attr('text-anchor', 'middle').style('font-family', FONT).style('font-size', FS + 'px');
  richText(xt, xParts);
  const yt = svg.append('text')
    .attr('transform', `translate(${yLabelX},${box.top + h / 2}) rotate(-90)`)
    .attr('dy', '0.35em')
    .attr('text-anchor', 'middle').style('font-family', FONT).style('font-size', FS + 'px');
  richText(yt, yParts);
}

function scatterPanel(c) {
  const box = c.box;
  const w = box.right - box.left, h = box.bottom - box.top;
  const g = svg.append('g').attr('transform', `translate(${box.left},${box.top})`);
  const x = d3.scaleLinear().domain(c.xDomain).range([0, w]);
  const y = d3.scaleLinear().domain(c.yDomain).range([h, 0]);
  const id = 'clip' + (clipCount++);
  defs.append('clipPath').attr('id', id).append('rect').attr('width', w).attr('height', h);
  const pg = g.append('g').attr('clip-path', `url(#${id})`);
  pg.selectAll('rect').data(c.points).join('rect')
    .attr('x', d => x(d[0]) - 0.9).attr('y', d => y(d[1]) - 0.9)
    .attr('width', 1.8).attr('height', 1.8).attr('fill', '#000');
  pg.append('line')
    .attr('x1', x(c.line[0])).attr('y1', y(c.line[0]))
    .attr('x2', x(c.line[1])).attr('y2', y(c.line[1]))
    .attr('stroke', '#e0174a').attr('stroke-width', 1.8).attr('stroke-dasharray', '5,3');
  drawAxes(g, x, y, w, h, c.xTicks, c.yTicks, c.xFmt, c.yFmt, 3);
  labels(box, c.xLabel, c.yLabel, c.yLabelX, 139);
  // faint separator under the panel
  svg.append('line').attr('x1', box.left - 1).attr('x2', box.right + 6)
    .attr('y1', 144.5).attr('y2', 144.5).attr('stroke', '#e4e4e4').attr('stroke-width', 1);
}

function stepPath(x, y, start, width, counts, close) {
  const first = counts.findIndex(v => v > 0);
  let last = counts.length - 1;
  while (last > 0 && counts[last] === 0) last--;
  let p = `M${x(start + first * width)},${y(0)}`;
  for (let i = first; i <= last; i++) {
    p += `V${y(counts[i])}H${x(start + (i + 1) * width)}`;
  }
  p += `V${y(0)}`;
  return close ? p + 'Z' : p;
}

function histPanel(c) {
  const box = c.box;
  const w = box.right - box.left, h = box.bottom - box.top;
  const g = svg.append('g').attr('transform', `translate(${box.left},${box.top})`);
  const x = d3.scaleLinear().domain(c.xDomain).range([0, w]);
  const ymax = 1.05 * d3.max([...c.bb, ...c.mb]);
  const y = d3.scaleLinear().domain([0, ymax]).range([h, 0]);
  g.append('path').attr('d', stepPath(x, y, c.start, c.width, c.bb, true))
    .attr('fill', '#d4d4d4').attr('stroke', 'none');
  g.append('path').attr('d', stepPath(x, y, c.start, c.width, c.mb, true))
    .attr('fill', 'url(#hatch)').attr('stroke', 'none');
  g.append('path').attr('d', stepPath(x, y, c.start, c.width, c.mb, false))
    .attr('fill', 'none').attr('stroke', '#000').attr('stroke-width', 1.7);
  g.append('line').attr('x1', x(c.medians[0])).attr('x2', x(c.medians[0]))
    .attr('y1', 0).attr('y2', h).attr('stroke', '#8a8a8a').attr('stroke-width', 1.4);
  g.append('line').attr('x1', x(c.medians[1])).attr('x2', x(c.medians[1]))
    .attr('y1', 0).attr('y2', h).attr('stroke', '#000').attr('stroke-width', 1.4);
  drawAxes(g, x, y, w, h, c.xTicks, c.yTicks, c.xFmt, d3.format('d'), 2.5);
  labels(box, c.xLabel, [['N', 0], ['clumps', 1]], c.yLabelX, 277.5);
}

const fInt = d3.format('d'), f1 = d3.format('.1f'), f2 = d3.format('.2f');
const T = { top: 5, bottom: 121 };
const B = { top: 146, bottom: 262 };

scatterPanel({
  box: { left: 33, right: 192, ...T }, xDomain: [5.95, 9.96], yDomain: [5.9, 9.92],
  points: agePoints.concat(ageCore, ageExtra), line: ageOneToOne, xTicks: ageTicks, yTicks: ageTicks, xFmt: fInt, yFmt: fInt,
  xLabel: [['log(Age) only BB filters [yr]', 0]], yLabel: [['log(Age) BB + MB filters [yr]', 0]], yLabelX: 8
});
scatterPanel({
  box: { left: 224.5, right: 387, ...T }, xDomain: [6, 10], yDomain: [6, 10],
  points: massPoints.concat(massCore, massExtra), line: massOneToOne, xTicks: massTicks, yTicks: massTicks, xFmt: fInt, yFmt: fInt,
  xLabel: [['log(M', 0], ['*', 1], [') only BB filters [M', 0], ['⊙', 1], [']', 0]],
  yLabel: [['log(M', 0], ['*', 1], [') BB + MB filters [M', 0], ['⊙', 1], [']', 0]], yLabelX: 207.5
});
scatterPanel({
  box: { left: 424, right: 582, ...T }, xDomain: [-0.032, 1.13], yDomain: [-0.045, 1.163],
  points: zPoints.concat(zCore, zExtra), line: zOneToOne, xTicks: zTicksX, yTicks: zTicksY, xFmt: f2, yFmt: f1,
  xLabel: [['Z only BB filters [Z', 0], ['⊙', 1], [']', 0]],
  yLabel: [['Z BB + MB filters [Z', 0], ['⊙', 1], [']', 0]], yLabelX: 402
});
scatterPanel({
  box: { left: 618, right: 778, ...T }, xDomain: [-0.034, 0.821], yDomain: [-0.032, 0.843],
  points: ebvPoints.concat(ebvCore, ebvExtra), line: ebvOneToOne, xTicks: ebvTicks, yTicks: ebvTicks, xFmt: f1, yFmt: f1,
  xLabel: [['E(B − V) only BB filters', 0]], yLabel: [['E(B − V) BB + MB filters', 0]], yLabelX: 598
});
scatterPanel({
  box: { left: 812, right: 975, ...T }, xDomain: [-3, 2], yDomain: [-3, 2],
  points: sfrPoints.concat(sfrCore, sfrExtra), line: sfrOneToOne, xTicks: sfrTicks, yTicks: sfrTicks, xFmt: fInt, yFmt: fInt,
  xLabel: [['log(SFR) only BB filters [M', 0], ['⊙', 1], ['/yr]', 0]],
  yLabel: [['log(SFR) BB + MB filters [M', 0], ['⊙', 1], ['/yr]', 0]], yLabelX: 788
});

histPanel({
  box: { left: 29, right: 192, ...B }, xDomain: [0.047, 0.88],
  start: ageBinStart, width: ageBinWidth, bb: ageBB, mb: ageMB, medians: ageMedians,
  xTicks: ageHistTicks, yTicks: count250Ticks, xFmt: f1,
  xLabel: [['Δ', 0], ['Age', 1]], yLabelX: 8
});
histPanel({
  box: { left: 224.5, right: 387, ...B }, xDomain: [-0.034, 0.839],
  start: massBinStart, width: massBinWidth, bb: massBB, mb: massMB, medians: massMedians,
  xTicks: massHistTicks, yTicks: count250Ticks, xFmt: f1,
  xLabel: [['Δ', 0], ['M', 1], ['*', 2]], yLabelX: 202
});
histPanel({
  box: { left: 420, right: 584, ...B }, xDomain: [-0.028, 0.52],
  start: zBinStart, width: zBinWidth, bb: zBB, mb: zMB, medians: zMedians,
  xTicks: zHistTicks, yTicks: count400Ticks, xFmt: f1,
  xLabel: [['Δ', 0], ['Z', 1]], yLabelX: 398
});
histPanel({
  box: { left: 617, right: 778, ...B }, xDomain: [-0.0105, 0.209],
  start: ebvBinStart, width: ebvBinWidth, bb: ebvBB, mb: ebvMB, medians: ebvMedians,
  xTicks: ebvHistTicks, yTicks: count250Ticks, xFmt: f2,
  xLabel: [['Δ', 0], ['E(B − V)', 1]], yLabelX: 593
});
histPanel({
  box: { left: 812, right: 974, ...B }, xDomain: [-0.056, 1.04],
  start: sfrBinStart, width: sfrBinWidth, bb: sfrBB, mb: sfrMB, medians: sfrMedians,
  xTicks: sfrHistTicks, yTicks: count300Ticks, xFmt: f1,
  xLabel: [['Δ', 0], ['SFR', 1]], yLabelX: 788
});
</script>
</body>
</html>
